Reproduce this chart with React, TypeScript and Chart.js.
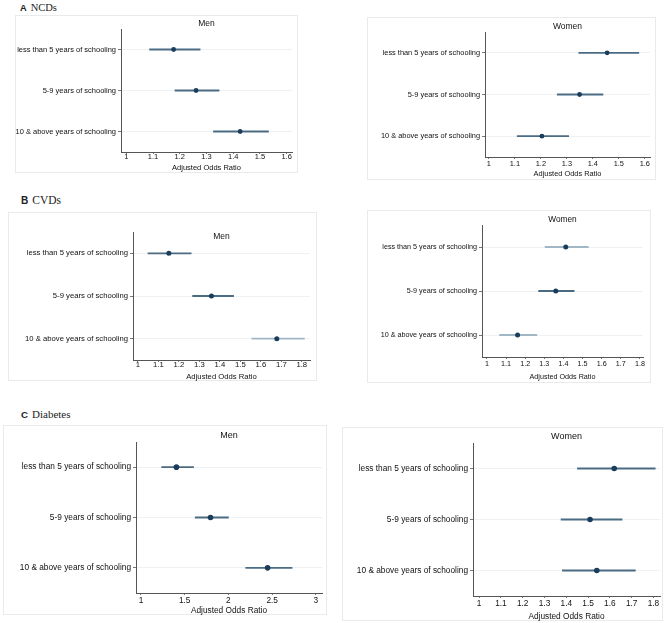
import React, { useEffect, useRef } from 'react';
import { Chart, registerables } from 'chart.js';

Chart.register(...registerables);

const SANS = '"Liberation Sans", Arial, Helvetica, sans-serif';
const SERIF = '"Liberation Serif", "Times New Roman", serif';

// ---------------- data ----------------
const categories = [
  'less than 5 years of schooling',
  '5-9 years of schooling',
  '10 & above years of schooling',
];
const axisTitle = 'Adjusted Odds Ratio';

const ncdMenOR = [1.177, 1.261, 1.426];
const ncdMenLo = [1.087, 1.182, 1.326];
const ncdMenHi = [1.276, 1.347, 1.532];

const ncdWomenOR = [1.455, 1.349, 1.204];
const ncdWomenLo = [1.346, 1.263, 1.109];
const ncdWomenHi = [1.577, 1.439, 1.307];

const cvdMenOR = [1.151, 1.359, 1.678];
const cvdMenLo = [1.049, 1.267, 1.556];
const cvdMenHi = [1.26, 1.467, 1.813];

const cvdWomenOR = [1.412, 1.36, 1.16];
const cvdWomenLo = [1.304, 1.27, 1.066];
const cvdWomenHi = [1.53, 1.456, 1.261];

const diabMenOR = [1.405, 1.795, 2.448];
const diabMenLo = [1.236, 1.62, 2.198];
const diabMenHi = [1.601, 2.0, 2.728];

const diabWomenOR = [1.62, 1.509, 1.54];
const diabWomenLo = [1.451, 1.376, 1.382];
const diabWomenHi = [1.808, 1.656, 1.717];

const ticksNCD = [1, 1.1, 1.2, 1.3, 1.4, 1.5, 1.6];
const ticksCVD = [1, 1.1, 1.2, 1.3, 1.4, 1.5, 1.6, 1.7, 1.8];
const ticksDiabMen = [1, 1.5, 2, 2.5, 3];
const ticksDiabWomen = [1, 1.1, 1.2, 1.3, 1.4, 1.5, 1.6, 1.7, 1.8];

const sectionLabels = [
  { letter: 'A', name: 'NCDs', x: 20, y: 6, size: 10.5 },
  { letter: 'B', name: 'CVDs', x: 21, y: 199, size: 11.5 },
  { letter: 'C', name: 'Diabetes', x: 21, y: 412, size: 11 },
];

// ---------------- styles / layout ----------------
const DARK = '#4b6b82';
const LIGHT = '#a2b7c5';
const NAVY = '#1b3d5c';
const TEXT = '#111111';

type Panel = {
  title: string;
  or: number[];
  lo: number[];
  hi: number[];
  ticks: number[];
  min: number;
  max: number;
  box: number[];
  plot: number[];
  titleY: number;
  axisTitleY: number;
  tickGap: number;
  font: number;
  titleFont: number;
  radius: number;
  ciColors: string[];
};

const panels: Panel[] = [
  {
    title: 'Men', or: ncdMenOR, lo: ncdMenLo, hi: ncdMenHi, ticks: ticksNCD, min: 0.98, max: 1.62,
    box: [15, 15, 298, 173], plot: [121, 29, 292, 152], titleY: 24, axisTitleY: 168, tickGap: 5,
    font: 7.5, titleFont: 8.5, radius: 2.4, ciColors: [DARK, DARK, DARK],
  },
  {
    title: 'Women', or: ncdWomenOR, lo: ncdWomenLo, hi: ncdWomenHi, ticks: ticksNCD, min: 0.985, max: 1.62,
    box: [367, 17, 656, 180], plot: [485, 32, 650, 157], titleY: 27, axisTitleY: 174, tickGap: 7,
    font: 7.4, titleFont: 8.5, radius: 2.4, ciColors: [DARK, DARK, DARK],
  },
  {
    title: 'Men', or: cvdMenOR, lo: cvdMenLo, hi: cvdMenHi, ticks: ticksCVD, min: 0.976, max: 1.84,
    box: [8, 212, 317, 381], plot: [133, 232, 310, 360], titleY: 237, axisTitleY: 377, tickGap: 4.8,
    font: 7.7, titleFont: 8.5, radius: 2.5, ciColors: [DARK, DARK, LIGHT],
  },
  {
    title: 'Women', or: cvdWomenOR, lo: cvdWomenLo, hi: cvdWomenHi, ticks: ticksCVD, min: 0.974, max: 1.816,
    box: [367, 210, 651, 383], plot: [482, 225, 643, 357], titleY: 220, axisTitleY: 377, tickGap: 7,
    font: 7.2, titleFont: 8.3, radius: 2.5, ciColors: [LIGHT, DARK, LIGHT],
  },
  {
    title: 'Men', or: diabMenOR, lo: diabMenLo, hi: diabMenHi, ticks: ticksDiabMen, min: 0.943, max: 3.07,
    box: [3, 425, 327, 615], plot: [136, 442, 322, 593], titleY: 436, axisTitleY: 610.5, tickGap: 7.3,
    font: 8.3, titleFont: 9, radius: 2.8, ciColors: [DARK, DARK, DARK],
  },
  {
    title: 'Women', or: diabWomenOR, lo: diabWomenLo, hi: diabWomenHi, ticks: ticksDiabWomen, min: 0.972, max: 1.83,
    box: [342, 427, 663, 621], plot: [473, 443, 660, 596], titleY: 437, axisTitleY: 617, tickGap: 8,
    font: 8.3, titleFont: 9, radius: 2.8, ciColors: [DARK, DARK, DARK],
  },
];

const framePlugin = {
  id: 'panelFrame',
  beforeDraw(chart: any) {
    const { ctx, width, height } = chart;
    ctx.save();
    ctx.fillStyle = '#ffffff';
    ctx.fillRect(0, 0, width, height);
    ctx.strokeStyle = '#e8eaec';
    ctx.lineWidth = 1;
    ctx.strokeRect(0.5, 0.5, width - 1, height - 1);
    ctx.restore();
  },
  afterDraw(chart: any, _args: any, opts: any) {
    const { ctx, chartArea } = chart;
    ctx.save();
    ctx.font = `${opts.size}px ${SANS}`;
    ctx.fillStyle = TEXT;
    ctx.textAlign = 'center';
    ctx.textBaseline = 'middle';
    ctx.fillText(opts.text, (chartArea.left + chartArea.right) / 2, opts.y);
    ctx.restore();
  },
};

function ForestPanel({ p }: { p: Panel }) {
  const ref = useRef<HTMLCanvasElement>(null);
  const [bl, bt, br, bb] = p.box;
  const [pl, pt, pr, pb] = p.plot;
  const w = br - bl;
  const h = bb - bt;

  useEffect(() => {
    const yW = pl - bl;
    const xH = bb - pb;
    const padR = br - pr;
    const padT = pt - bt;
    const fs = p.font;
    const lh = fs * 1.2;
    const tickLen = 2;
    const tickPad = p.tickGap - lh / 2 - tickLen;
    const titlePadBottom = bb - p.axisTitleY - lh / 2;
    const tickVals = p.ticks;

    const chart = new Chart(ref.current as HTMLCanvasElement, {
      type: 'bar',
      data: {
        labels: categories,
        datasets: [
          {
            type: 'bar',
            data: p.lo.map((l, i) => [l, p.hi[i]]) as any,
            backgroundColor: p.ciColors,
            borderWidth: 0,
            barThickness: 1.1,
            grouped: false,
            order: 2,
          } as any,
          {
            type: 'line',
            indexAxis: 'y',
            data: p.or.map((v, i) => ({ x: v, y: categories[i] })) as any,
            showLine: false,
            pointRadius: p.radius,
            pointHoverRadius: p.radius,
            pointBackgroundColor: NAVY,
            pointBorderColor: NAVY,
            pointBorderWidth: 0,
            order: 1,
          } as any,
        ],
      },
      options: {
        indexAxis: 'y',
        animation: false,
        responsive: false,
        maintainAspectRatio: false,
        events: [],
        layout: { padding: { left: 0, right: padR, top: padT, bottom: 0 } },
        plugins: {
          legend: { display: false },
          tooltip: { enabled: false },
          panelFrame: { text: p.title, y: p.titleY - bt, size: p.titleFont },
        } as any,
        scales: {
          x: {
            type: 'linear',
            min: p.min,
            max: p.max,
            beginAtZero: false,
            afterBuildTicks: (axis: any) => {
              axis.ticks = tickVals.map((v) => ({ value: v }));
            },
            afterFit: (axis: any) => {
              axis.height = xH;
            },
            grid: { drawOnChartArea: false, tickLength: tickLen, tickColor: '#555', tickWidth: 0.8 },
            border: { color: '#555555', width: 1 },
            ticks: {
              font: { family: SANS, size: fs },
              color: TEXT,
              padding: tickPad,
              autoSkip: false,
              maxRotation: 0,
              callback: (v: any) => String(v),
            },
            title: {
              display: true,
              text: axisTitle,
              font: { family: SANS, size: fs },
              color: TEXT,
              padding: { top: 0, bottom: titlePadBottom },
            },
          },
          y: {
            type: 'category',
            afterFit: (axis: any) => {
              axis.width = yW;
            },
            grid: { offset: false, color: '#eef2f5', lineWidth: 1, tickLength: 3, tickColor: '#555', tickWidth: 0.8 },
            border: { color: '#555555', width: 1 },
            ticks: {
              font: { family: SANS, size: fs },
              color: TEXT,
              padding: 2,
              autoSkip: false,
            },
          },
        },
      } as any,
      plugins: [framePlugin as any],
    });
    return () => chart.destroy();
  }, [p]);

  return (
    <canvas
      ref={ref}
      width={w}
      height={h}
      style={{ position: 'absolute', left: bl, top: bt, width: w, height: h }}
    />
  );
}

export default function App() {
  return (
    <div
      style={{
        position: 'absolute',
        left: 0,
        top: 0,
        width: 669,
        height: 623,
        background: '#ffffff',
        overflow: 'hidden',
      }}
    >
      {sectionLabels.map((s) => (
        <div
          key={s.letter}
          style={{
            position: 'absolute',
            left: s.x,
            top: s.y - s.size / 2,
            height: s.size,
            lineHeight: `${s.size}px`,
            whiteSpace: 'nowrap',
            color: '#222',
          }}
        >
          <span style={{ fontFamily: SANS, fontWeight: 'bold', fontSize: s.size * 0.88 }}>{s.letter}</span>
          <span style={{ fontFamily: SERIF, fontSize: s.size, marginLeft: 4 }}>{s.name}</span>
        </div>
      ))}
      {panels.map((p, i) => (
        <ForestPanel key={i} p={p} />
      ))}
    </div>
  );
}
